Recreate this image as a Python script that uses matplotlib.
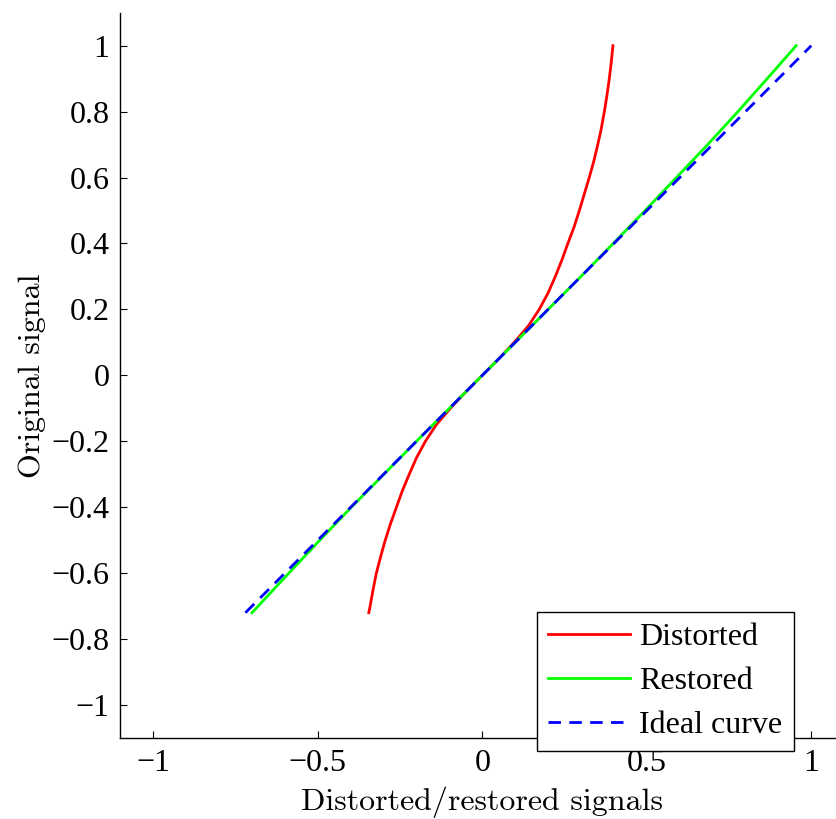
import matplotlib
matplotlib.use("Agg")
import matplotlib.pyplot as plt
import numpy as np

# Original signal (y) and corresponding horizontal values
y_dist = [-0.72, -0.7, -0.65, -0.6, -0.55, -0.5, -0.45, -0.4, -0.35, -0.3, -0.25, -0.2, -0.15, -0.1, -0.05, 0.0,
          0.05, 0.1, 0.15, 0.2, 0.25, 0.3, 0.35, 0.4, 0.45, 0.5, 0.55, 0.6, 0.65, 0.7, 0.75, 0.8, 0.85, 0.9, 0.95, 1.0]
x_dist = [-0.345, -0.341, -0.332, -0.322, -0.309, -0.295, -0.279, -0.261, -0.243, -0.222, -0.200, -0.173, -0.140, -0.097, -0.050, 0.0,
          0.050, 0.097, 0.140, 0.173, 0.200, 0.222, 0.242, 0.260, 0.279, 0.295, 0.310, 0.325, 0.339, 0.351, 0.362, 0.371, 0.379, 0.386, 0.392, 0.397]

y_rest = [-0.72, -0.6, -0.5, -0.4, -0.3, -0.2, -0.1, 0.0, 0.1, 0.2, 0.3, 0.4, 0.5, 0.6, 0.7, 0.8, 0.9, 1.0]
x_rest = [-0.700, -0.588, -0.494, -0.398, -0.299, -0.2, -0.1, 0.0, 0.1, 0.2, 0.3, 0.398, 0.495, 0.590,
          0.685, 0.777, 0.866, 0.954]

y_ideal = [-0.72, 1.0]
x_ideal = [-0.72, 1.0]

labels = ["Distorted", "Restored", "Ideal curve"]
xticks = [-1, -0.5, 0, 0.5, 1]
yticks = [-1, -0.8, -0.6, -0.4, -0.2, 0, 0.2, 0.4, 0.6, 0.8, 1]

plt.rcParams['font.family'] = ['Liberation Serif', 'DejaVu Serif']
plt.rcParams['axes.unicode_minus'] = True

fig = plt.figure(figsize=(8.37, 8.19), dpi=100)
ax = fig.add_axes([120.4/837, 81/819, 723.8/837, 725.3/819])

ax.plot(x_dist, y_dist, color='#ff0000', lw=2.0, label=labels[0])
ax.plot(x_rest, y_rest, color='#00ff00', lw=2.0, label=labels[1])
ax.plot(x_ideal, y_ideal, color='#0000ff', lw=2.0, dashes=(4.5, 3), label=labels[2])

ax.set_xlim(-1.1, 1.1)
ax.set_ylim(-1.1, 1.1)
ax.set_xticks(xticks)
ax.set_yticks(yticks)
ax.set_xticklabels(['\u22121', '\u22120.5', '0', '0.5', '1'])
ax.set_yticklabels([('\u2212' + f'{abs(v):g}') if v < 0 else f'{v:g}' for v in yticks])
ax.tick_params(direction='in', length=5, width=0.8, labelsize=23, pad=8)
for s in ['top', 'right']:
    ax.spines[s].set_visible(False)
for s in ['left', 'bottom']:
    ax.spines[s].set_linewidth(1.0)

ax.set_xlabel('Distorted/restored signals', fontsize=23, family='cmr10', labelpad=6)
ax.set_ylabel('Original signal', fontsize=23, family='cmr10', labelpad=4)

leg = ax.legend(loc='lower left', bbox_to_anchor=(0.5756, -0.018), fontsize=23,
                frameon=True, fancybox=False, framealpha=1, edgecolor='black',
                handlelength=2.55, handletextpad=0.3, labelspacing=0.45,
                borderpad=0.35, borderaxespad=0)
leg.get_frame().set_linewidth(1.0)

fig.savefig('out.png', dpi=100)
